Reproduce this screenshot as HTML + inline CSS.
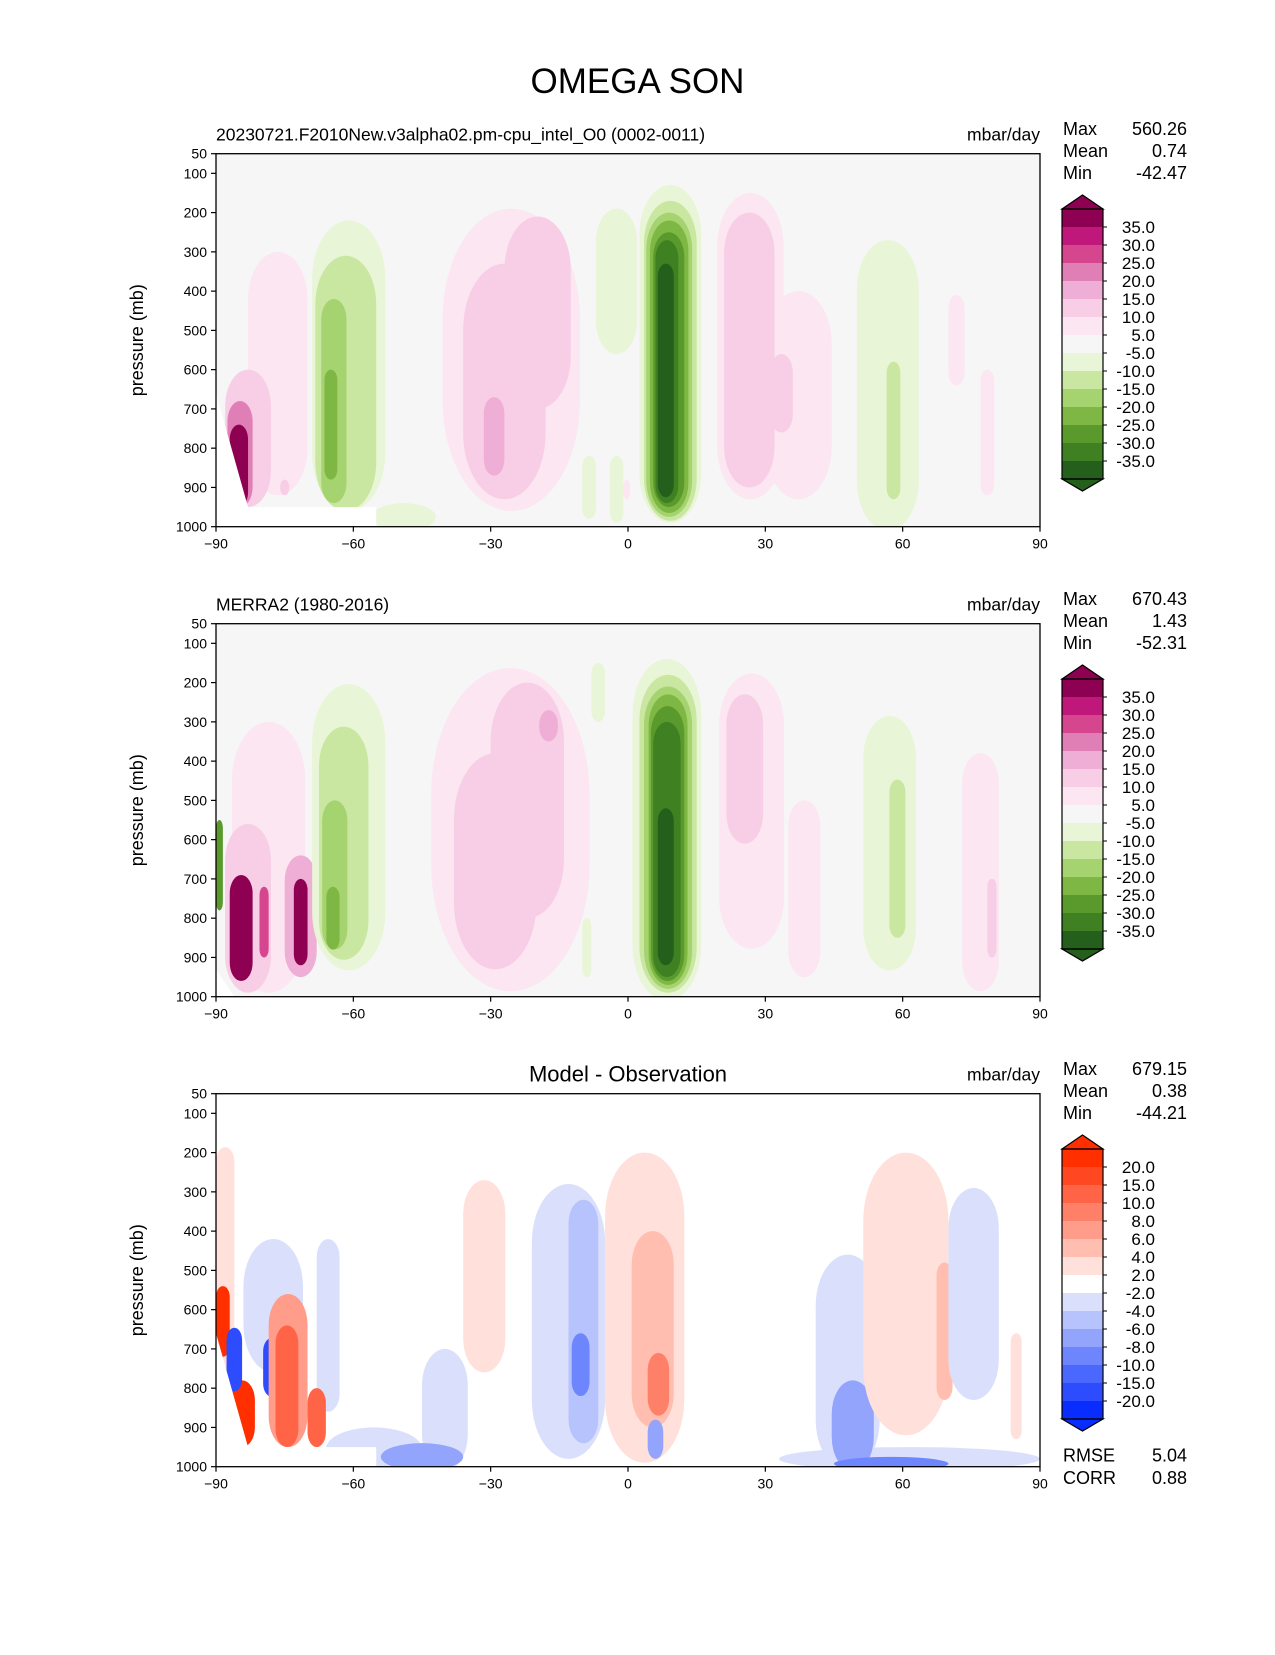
<!DOCTYPE html>
<html><head><meta charset="utf-8"><style>
body{margin:0;background:#fff;}
svg text{font-family:"Liberation Sans","DejaVu Sans",sans-serif;fill:#000;}
</style></head><body>
<svg id="fig" width="1275" height="1650" viewBox="0 0 1275 1650" xmlns="http://www.w3.org/2000/svg">
<text x="637.5" y="93" font-size="35" text-anchor="middle">OMEGA SON</text>
</svg>
<script>
// ---- data ----
const yTicks = [50,100,200,300,400,500,600,700,800,900,1000];
const xTicks = [-90,-60,-30,0,30,60,90];
const xTickLabels = ["\u221290","\u221260","\u221230","0","30","60","90"];
const piygLevels = [-35,-30,-25,-20,-15,-10,-5,5,10,15,20,25,30,35];
const piygColors = ["#24601b","#3f8122","#5a9a2c","#7fb744","#a5d36f","#c9e7a1","#e8f5d6","#f6f6f6","#fbe6f1","#f7cee5","#efaed5","#e07fb5","#d5468f","#c0177a","#8e0152"];
const bwrLevels = [-20,-15,-10,-8,-6,-4,-2,2,4,6,8,10,15,20];
const bwrColors = ["#0a2dff","#2c4cfe","#4a68fe","#6e86fd","#93a4fc","#b7c3fc","#dae0fb","#ffffff","#ffe0da","#ffbeb0","#ff9c8a","#ff8068","#ff6447","#ff4722","#ff2f00"];
const piygLabels = ["35.0","30.0","25.0","20.0","15.0","10.0","5.0","-5.0","-10.0","-15.0","-20.0","-25.0","-30.0","-35.0"];
const bwrLabels = ["20.0","15.0","10.0","8.0","6.0","4.0","2.0","-2.0","-4.0","-6.0","-8.0","-10.0","-15.0","-20.0"];
// blobs: [latMin, latMax, pTop, pBottom, value]
const blobsModel = [
 [-83,-70,300,920,7],[-88,-78,600,950,12],[-87.5,-82,680,950,22],[-87,-83,740,950,40],
 [-80,-79,820,880,12],[-76,-74,880,920,12],
 [-69,-53,220,960,-7],[-68.3,-55,310,960,-12],[-67,-61.5,420,940,-17],[-66.3,-63.5,600,880,-22],
 [-56,-42,940,1010,-7],
 [-40.5,-10.5,190,960,7],[-36,-18,330,930,12],[-27,-12.5,210,700,12],[-31.5,-27,670,870,17],
 [-7,2,190,560,-7],[-10,-7,820,980,-7],[-4,-1,820,990,-7],[-1,0.5,880,930,7],
 [2.5,16,130,990,-7],[3.5,15,170,985,-12],[4,14,200,975,-17],[4.8,13.2,220,965,-22],[5.5,12.3,250,950,-27],[6,11,270,940,-32],[6.5,10,330,925,-37],
 [19.5,34,150,930,7],[30,44.5,400,930,7],[21,32,200,900,12],[31,36,560,760,12],
 [50,63.5,270,1010,-7],[56.5,59.5,580,930,-12],
 [70,73.5,410,640,7],[77,80,600,920,7]
];
const blobsObs = [
 [-86.5,-70.5,300,990,7],[-88,-78,560,990,12],[-87,-82,690,960,40],[-90,-88.5,550,780,-27],
 [-75,-68,640,950,17],[-73,-70,700,920,40],[-80.5,-78.5,720,900,30],
 [-69,-53,204,933,-7],[-67.5,-56.7,312,906,-12],[-66.8,-61.3,500,880,-17],[-65.9,-63,720,880,-22],
 [-43,-8.4,163,986,7],[-38,-20,380,930,12],[-30,-14,200,800,12],[-19.4,-15.3,270,350,17],
 [-8,-5,150,300,-7],[-10,-8,800,950,-7],
 [1,16,140,1010,-7],[2.5,15,180,990,-12],[3.5,14,210,980,-17],[4.5,13,230,970,-22],[5,12.3,260,960,-27],[5.5,11.5,300,950,-32],[6.5,10,520,920,-37],
 [19.9,34.1,177,878,7],[21.5,29.5,230,610,12],[35,42,500,950,7],
 [51.4,62.9,285,933,-7],[57.1,60.6,447,850,-12],
 [73,81,380,986,7],[78.5,80.5,700,900,12]
];
const blobsDiff = [
 [-90,-86,186,970,3],[-84,-71,420,760,-3],[-68,-63,420,860,-3],
 [-90,-87,540,720,22],[-87,-81.5,780,950,22],
 [-87.7,-84.3,646,808,-17],[-79.7,-76.2,673,821,-17],
 [-78.5,-70,560,950,7],[-77,-72,640,950,12],[-70,-66,800,950,12],
 [-66,-45,900,1010,-3],[-45,-35,700,1010,-3],[-54,-36,940,1010,-7],
 [-36,-26.8,270,760,3],
 [-21,-5,280,980,-3],[-13,-6.5,320,940,-5],[-12.3,-8.4,660,820,-9],
 [-5,12.3,200,990,3],[0.8,10,400,900,5],[4.3,9,710,870,9],[4.3,7.7,880,980,-7],
 [41,55,460,1010,-3],[33,90,950,1010,-3],[44.5,53.7,780,1010,-7],[45,70,975,1010,-9],
 [51.4,70,200,920,3],[67.4,70.9,480,830,6],
 [70,81,290,830,-3],[83.6,86,660,930,3]
];
// no-data mask polygons (lat, p)
const maskModel = [[-90,660],[-83,950],[-55,950],[-55,1000],[-90,1000]];
const maskObs = [[-90,930],[-86,1000],[-90,1000]];
const maskDiff = [[-90,660],[-83,950],[-55,950],[-55,1000],[-90,1000]];

const panels = [
 {id:"model",top:153.7,blobs:blobsModel,mask:maskModel,levels:piygLevels,colors:piygColors,labels:piygLabels,bg:"#f6f6f6",
  left:"20230721.F2010New.v3alpha02.pm-cpu_intel_O0 (0002-0011)",center:"",stats:[["Max","560.26"],["Mean","0.74"],["Min","-42.47"]]},
 {id:"obs",top:623.7,blobs:blobsObs,mask:maskObs,levels:piygLevels,colors:piygColors,labels:piygLabels,bg:"#f6f6f6",
  left:"MERRA2 (1980-2016)",center:"",stats:[["Max","670.43"],["Mean","1.43"],["Min","-52.31"]]},
 {id:"diff",top:1093.7,blobs:blobsDiff,mask:maskDiff,levels:bwrLevels,colors:bwrColors,labels:bwrLabels,bg:"#ffffff",
  left:"",center:"Model - Observation",stats:[["Max","679.15"],["Mean","0.38"],["Min","-44.21"]]}
];

const NS="http://www.w3.org/2000/svg";
const fig=document.getElementById('fig');
function mk(tag,attrs,parent){const e=document.createElementNS(NS,tag);for(const k in attrs)e.setAttribute(k,attrs[k]);(parent||fig).appendChild(e);return e;}
const AX_L=216, AX_R=1040, AX_H=373;
function xs(lat){return AX_L+(lat+90)/180*(AX_R-AX_L);}
function colorFor(v,levels,colors){let i=0;while(i<levels.length&&v>levels[i])i++;return colors[i];}

panels.forEach((P,pi)=>{
  const top=P.top, bot=top+AX_H;
  const ys=p=>top+(p-50)/950*AX_H;
  const g=mk('g',{});
  
  
  const cp=mk('clipPath',{id:'clip'+pi},g);
  mk('rect',{x:AX_L,y:top,width:AX_R-AX_L,height:AX_H},cp);
  const plot=mk('g',{'clip-path':'url(#clip'+pi+')'},g);
  
  
  mk('rect',{x:AX_L,y:top,width:AX_R-AX_L,height:AX_H,fill:P.bg},plot);
  P.blobs.forEach(b=>{
    const x0=xs(b[0]),x1=xs(b[1]),y0=ys(b[2]),y1=ys(b[3]);
    const w=x1-x0,h=y1-y0;
    const r=mk('rect',{x:x0,y:y0,width:w,height:h,rx:w/2,ry:Math.min(h/2,Math.max(w*0.8,8)),fill:colorFor(b[4],P.levels,P.colors)},plot);
    
    
  });
  const m=mk('polygon',{points:P.mask.map(q=>xs(q[0])+','+ys(q[1])).join(' '),fill:'#ffffff'},plot);
  
  
  const fr=mk('rect',{x:AX_L,y:top,width:AX_R-AX_L,height:AX_H,fill:'none',stroke:'#000','stroke-width':1.3},g);
  
  
  yTicks.forEach(t=>{
    const y=ys(t);
    mk('line',{x1:AX_L-5,x2:AX_L,y1:y,y2:y,stroke:'#000','stroke-width':1.2},g);
    const tx=mk('text',{x:AX_L-9,y:y+5,'font-size':14,'text-anchor':'end'},g);
    tx.textContent=t;
    
    
  });
  xTicks.forEach((t,i)=>{
    const x=xs(t);
    mk('line',{x1:x,x2:x,y1:bot,y2:bot+5,stroke:'#000','stroke-width':1.2},g);
    const tx=mk('text',{x:x,y:bot+22,'font-size':14,'text-anchor':'middle'},g);
    tx.textContent=xTickLabels[i];
    
    
  });
  const yl=mk('text',{x:0,y:0,'font-size':18,'text-anchor':'middle',transform:'translate(143,'+(top+AX_H/2)+') rotate(-90)'},g);
  yl.textContent='pressure (mb)';
  
  
  if(P.left){const t=mk('text',{x:AX_L,y:top-13,'font-size':17.5},g);t.textContent=P.left;
    
    }
  if(P.center){const t=mk('text',{x:(AX_L+AX_R)/2,y:top-12,'font-size':22,'text-anchor':'middle'},g);t.textContent=P.center;
    
    }
  const un=mk('text',{x:AX_R,y:top-13,'font-size':17.5,'text-anchor':'end'},g);un.textContent='mbar/day';
  
  
  P.stats.forEach((s,i)=>{
    const yy=top-18.7+i*22;
    const a=mk('text',{x:1063,y:yy,'font-size':18},g);a.textContent=s[0];
    
    
    const b=mk('text',{x:1187,y:yy,'font-size':18,'text-anchor':'end'},g);b.textContent=s[1];
    
    
  });
  // colorbar
  const cb=mk('g',{},g);
  
  
  const cx0=1062,cx1=1103,bt=top+55.3,seg=18,n=P.colors.length,bb=bt+n*seg;
  for(let i=0;i<n;i++){
    const c=P.colors[n-1-i];
    mk('rect',{x:cx0,y:bt+i*seg,width:cx1-cx0,height:seg+0.5,fill:c},cb);
  }
  mk('polygon',{points:`${cx0},${bt} ${(cx0+cx1)/2},${bt-14} ${cx1},${bt}`,fill:P.colors[n-1],stroke:'#000','stroke-width':1.2},cb);
  mk('polygon',{points:`${cx0},${bb} ${(cx0+cx1)/2},${bb+12} ${cx1},${bb}`,fill:P.colors[0],stroke:'#000','stroke-width':1.2},cb);
  mk('rect',{x:cx0,y:bt,width:cx1-cx0,height:bb-bt,fill:'none',stroke:'#000','stroke-width':1.2},cb);
  P.labels.forEach((l,i)=>{
    const y=bt+seg*(i+1);
    mk('line',{x1:cx1,x2:cx1+4,y1:y,y2:y,stroke:'#000','stroke-width':1},cb);
    const t=mk('text',{x:1155,y:y+6,'font-size':17,'text-anchor':'end'},cb);t.textContent=l;
    
    
  });
  if(P.id==='diff'){
    [["RMSE","5.04"],["CORR","0.88"]].forEach((s,i)=>{
      const yy=1461.7+i*22.3;
      const a=mk('text',{x:1063,y:yy,'font-size':18},g);a.textContent=s[0];
      
      
      const b=mk('text',{x:1187,y:yy,'font-size':18,'text-anchor':'end'},g);b.textContent=s[1];
      
      
    });
  }
});
</script>
</body></html>
